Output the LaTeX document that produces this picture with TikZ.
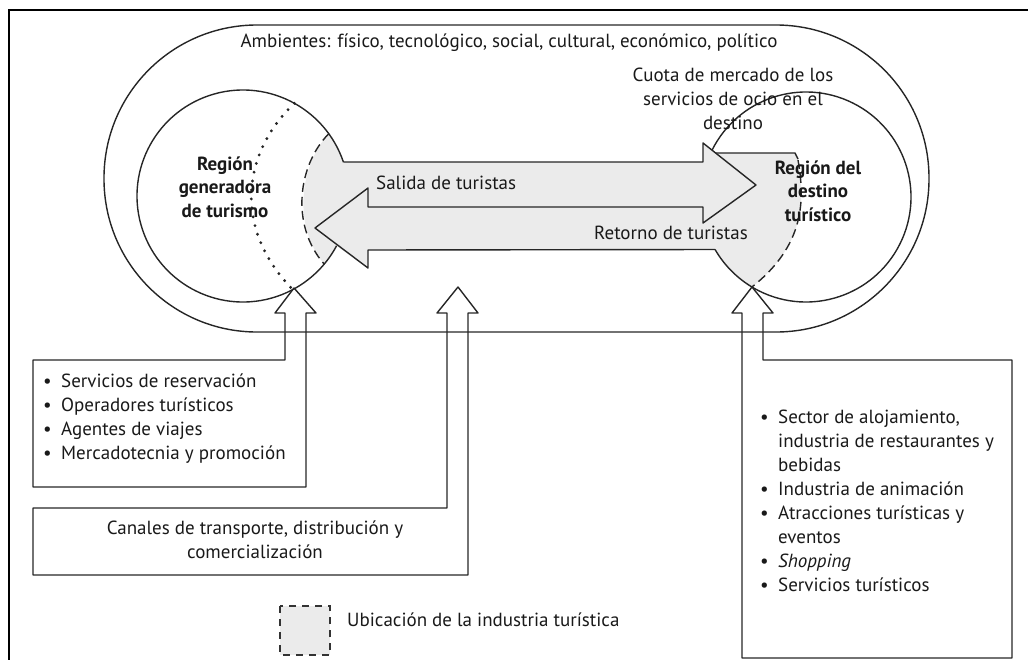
\documentclass[tikz,border=0pt]{standalone}
\usepackage{fontspec}
\setmainfont{PT Sans}
\usetikzlibrary{calc}
\newcommand{\bul}{\makebox[18pt][l]{\textbullet}}
\newcommand{\ind}{\hspace*{18pt}}
\begin{document}
\begin{tikzpicture}[x=1pt,y=-1pt,
  ln/.style={draw=black!85, line width=1.4pt, line join=round},
  shaded/.style={fill=black!8},
  txt/.style={font=\fontsize{19}{24}\selectfont, inner sep=0pt, text=black!90},
  boldtxt/.style={font=\fontsize{19}{23.5}\selectfont\bfseries, inner sep=0pt, align=center, text=black!90}]
\useasboundingbox (0,0) rectangle (1028,659);
\coordinate (L) at (243,196);
\coordinate (R) at (806,197);
% shaded zone (tourism industry)
\path[shaded] ($(L)+(-36:106)$) arc[start angle=-36, end angle=-18.7, radius=106]
  -- (703,162) -- (703,143) -- (716,153) -- (795,153) -- (798,160)
  .. controls (805,200) and (805,245) .. ($(R)+(121:105)$)
  arc[start angle=121, end angle=150, radius=105]
  -- (368,250) -- (368,268) -- ($(L)+(28:106)$)
  arc[start angle=28, end angle=40, radius=106]
  .. controls (292,225) and (300,165) .. ($(L)+(-36:106)$) -- cycle;
% frame
\draw[line width=2.4pt, black] (9,662) -- (9,10) -- (1032,10);
% environment stadium
\draw[ln, rounded corners=153pt] (104,25) rectangle (929,332);
% circles
\draw[ln] ($(L)+(-18.7:106)$) arc[start angle=-18.7, end angle=-332, radius=106];
\draw[ln] ($(R)+(-153.5:105)$) arc[start angle=-153.5, end angle=150, radius=105];
% flows
\draw[ln] ($(L)+(-18.7:106)$) -- (703,162) -- (703,143) -- (756,185) -- (703,223) -- (703,207)
  -- (368,207) -- (368,188) -- (315,228) -- (368,268) -- (368,250) -- ($(R)+(150:105)$);
\draw[ln] (716,153) -- (795,153) -- (798,159);
\draw[ln, dash pattern=on 9pt off 5pt] (798,160) .. controls (805,200) and (805,245) .. ($(R)+(121:105)$);
\draw[ln, dash pattern=on 9pt off 5pt] ($(L)+(-36:106)$) .. controls (298,165) and (290,225) .. ($(L)+(40:106)$);
\draw[black!85, line width=3.2pt, line cap=round, dash pattern=on 0pt off 9pt] ($(L)+(-61:106)$) .. controls (245,150) and (230,225) .. ($(L)+(62:106)$);
% boxes with hollow arrows
\draw[ln] (33,360) -- (285,360) -- (285,313) -- (275,313) -- (294,288) -- (316,313) -- (306,313) -- (306,487) -- (33,487) -- cycle;
\draw[ln] (33,508) -- (447,508) -- (447,313) -- (437,313) -- (458,287) -- (478,313) -- (468,313) -- (468,575) -- (33,575) -- cycle;
\draw[ln] (742,658) -- (742,313) -- (732,313) -- (752,287) -- (773,313) -- (763,313) -- (763,360) -- (1012,360) -- (1012,658) -- cycle;
% legend
\draw[black!80, line width=1.2pt, dash pattern=on 7pt off 6pt, fill=black!8] (280,606) rectangle (330,655);
% texts
\node[txt] (amb) at (509,43) {Ambientes: físico, tecnológico, social, cultural, económico, político};
\node[txt, align=center] (cuota) at (733,99) {Cuota de mercado de los\\servicios de ocio en el\\destino};
\node[boldtxt] (gen) at (225,187) {Región\\generadora\\de turismo};
\node[boldtxt] (dest) at (818,191) {Región del\\destino\\turístico};
\node[txt, anchor=west] (sal) at (376,183) {Salida de turistas};
\node[txt] (ret) at (671,233) {Retorno de turistas};
\node[txt, anchor=west, align=left] (b1) at (43,419) {\bul Servicios de reservación\\\bul Operadores turísticos\\\bul Agentes de viajes\\\bul Mercadotecnia y promoción};
\node[txt, align=center] (b2) at (255,540) {Canales de transporte, distribución y\\comercialización};
\node[txt, anchor=west, align=left] (b3) at (760,501) {\bul Sector de alojamiento,\\\ind industria de restaurantes y\\\ind bebidas\\\bul Industria de animación\\\bul Atracciones turísticas y\\\ind eventos\\\bul \textit{Shopping}\\\bul Servicios turísticos};
\node[txt, anchor=west] (leg) at (347,620) {Ubicación de la industria turística};
\end{tikzpicture}
\end{document}
